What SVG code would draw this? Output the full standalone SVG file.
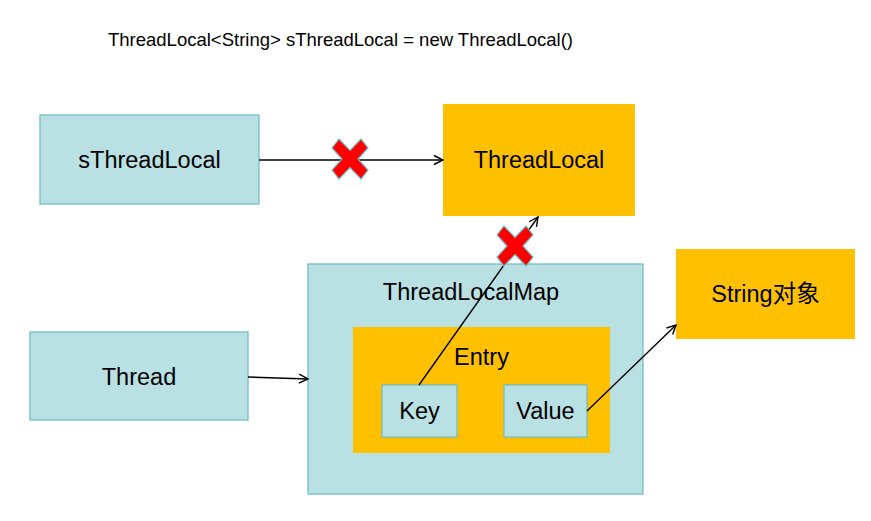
<svg xmlns="http://www.w3.org/2000/svg" width="871" height="521" viewBox="0 0 871 521">
<style>
.t{fill:#B9E0E3;stroke:#70BFC7;stroke-width:1.3}
.o{fill:#FFC000;stroke:none}
text{font-family:"Liberation Sans",Arial,"Noto Sans CJK SC",sans-serif;fill:#000}
.l{font-size:23.5px;text-anchor:middle}
.c{stroke:#000;stroke-width:1.4;fill:none;marker-end:url(#a)}
.x{fill:#FF0000;stroke:#70BFC7;stroke-width:1.2}
</style>
<defs>
<marker id="a" markerUnits="userSpaceOnUse" markerWidth="12" markerHeight="12" refX="10" refY="5" orient="auto" viewBox="0 0 12 10">
<path d="M1,0.5 L10,5 L1,9.5" fill="none" stroke="#000" stroke-width="1.4"/>
</marker>
<polygon id="cross" points="-18,-11 -11,-20 0,-8.5 11,-20 18,-11 8,0 18,11 11,20 0,8.5 -11,20 -18,11 -8,0"/>
</defs>
<rect width="871" height="521" fill="#fff"/>
<text x="108" y="46" style="font-size:18.5px">ThreadLocal&lt;String&gt; sThreadLocal = new ThreadLocal()</text>
<g id="sThreadLocal"><rect class="t" x="40" y="115" width="219" height="89"/><text class="l" x="149.5" y="168">sThreadLocal</text></g>
<g id="ThreadLocal"><rect class="o" x="443" y="104" width="192" height="112"/><text class="l" x="539" y="168">ThreadLocal</text></g>
<g id="Thread"><rect class="t" x="30" y="332" width="218" height="88"/><text class="l" x="139" y="385">Thread</text></g>
<g id="ThreadLocalMap"><rect class="t" x="308" y="264" width="335" height="230"/><text class="l" x="471" y="300">ThreadLocalMap</text></g>
<g id="Entry"><rect class="o" x="353" y="327" width="257" height="126"/><text class="l" x="481.5" y="365">Entry</text></g>
<g id="Key"><rect class="t" x="382" y="385" width="75" height="52"/><text class="l" x="419.5" y="419">Key</text></g>
<g id="Value"><rect class="t" x="504" y="385" width="83" height="52"/><text class="l" x="545.5" y="419">Value</text></g>
<g id="StringObj"><rect class="o" x="676" y="249" width="179" height="90"/><text class="l" x="765.5" y="302">String对象</text></g>
<g id="connectors">
<line class="c" x1="259" y1="160" x2="443" y2="160"/>
<line class="c" x1="248" y1="377" x2="308" y2="379"/>
<line class="c" x1="419" y1="385" x2="538" y2="217"/>
<line class="c" x1="587" y1="411" x2="676" y2="325"/>
</g>
<g id="crosses">
<use href="#cross" class="x" x="350" y="159"/>
<use href="#cross" class="x" x="515" y="246"/>
</g>
</svg>
